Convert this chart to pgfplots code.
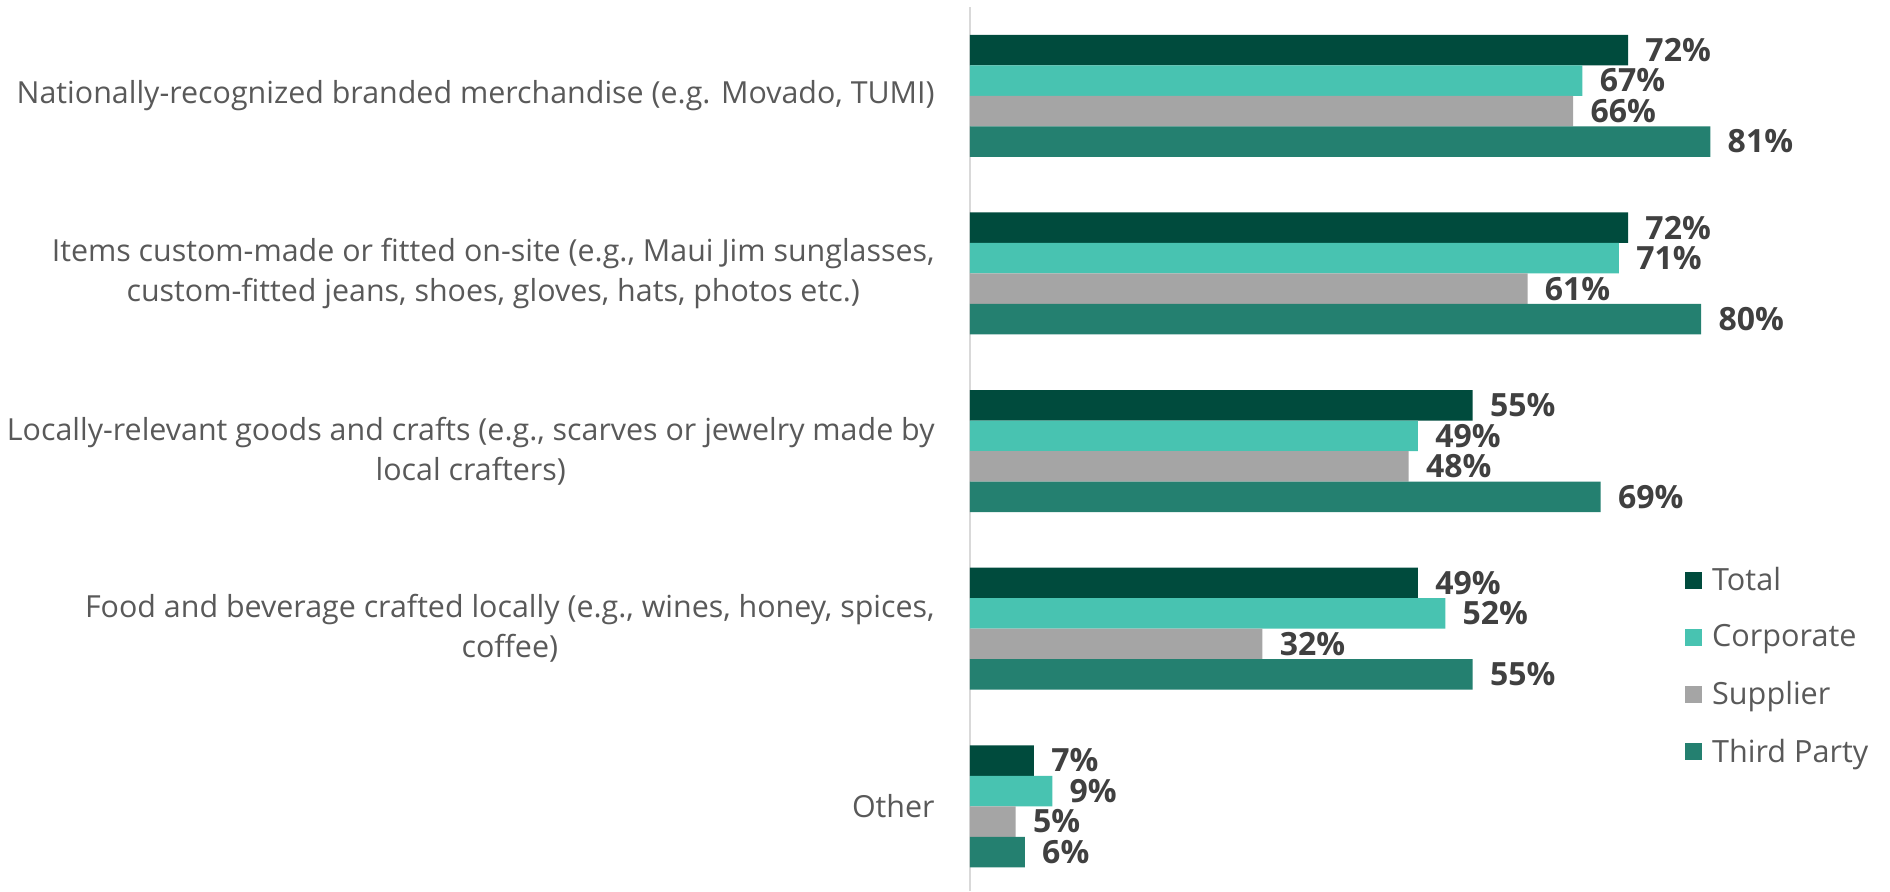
\documentclass[border=0pt]{standalone}
\usepackage{pgfplots}
\pgfplotsset{compat=1.18}
\usepackage{fontspec}
\setmainfont{Open Sans}

\definecolor{cTotal}{HTML}{004B3D}
\definecolor{cCorp}{HTML}{48C3B1}
\definecolor{cSupp}{HTML}{A5A5A5}
\definecolor{cThird}{HTML}{248070}
\definecolor{valtext}{HTML}{404040}
\definecolor{cattext}{HTML}{595959}
\definecolor{axisgray}{HTML}{D9D9D9}

\begin{document}
\begin{tikzpicture}
\path[use as bounding box] (0,0) rectangle (945pt,445.5pt);
\begin{axis}[
  at={(485pt,0pt)}, anchor=south west,
  scale only axis,
  width=457pt, height=442pt,
  xbar, bar width=15.25pt,
  xmin=0, xmax=100,
  ymin=-0.477, ymax=4.5,
  axis x line=none,
  axis y line*=left,
  y axis line style={draw=axisgray, line width=1pt, -},
  ytick={4,3,2,1,0},
  yticklabels={
    {Nationally-recognized branded merchandise (e.g. Movado, TUMI)},
    {Items custom-made or fitted on-site (e.g., Maui Jim sunglasses,\\custom-fitted jeans, shoes, gloves, hats, photos etc.)},
    {Locally-relevant goods and crafts (e.g., scarves or jewelry made by\\local crafters)},
    {Food and beverage crafted locally (e.g., wines, honey, spices,\\coffee)},
    {Other}},
  major tick length=0pt,
  yticklabel style={align=center, inner sep=0pt, xshift=-17.5pt,
    font=\fontsize{15.2}{20}\selectfont, text=cattext},
  /pgf/number format/assume math mode=true,
  point meta=x,
  nodes near coords={\pgfmathprintnumber{\pgfplotspointmeta}\%},
  every node near coord/.append style={anchor=west, inner sep=0pt, xshift=8.5pt,
    font=\fontsize{16}{16}\selectfont\bfseries, text=valtext},
  every axis plot post/.append style={draw=none,
    legend image code/.code={\fill[##1] (0pt,-4.25pt) rectangle (8.5pt,4.25pt);}},
  legend style={draw=none, fill=none, at={(axis cs:78.2,1.372)}, anchor=north west,
    inner sep=0pt, row sep=11.7pt, column sep=3pt,
    font=\fontsize{15.3}{15.3}\selectfont, text=cattext,
    cells={anchor=west}},
  legend cell align=left,
  clip=false,
]
\addplot[fill=cTotal, bar shift=22.875pt] coordinates {(72,4) (72,3) (55,2) (49,1) (7,0)};
\addplot[fill=cCorp, bar shift=7.625pt] coordinates {(67,4) (71,3) (49,2) (52,1) (9,0)};
\addplot[fill=cSupp, bar shift=-7.625pt] coordinates {(66,4) (61,3) (48,2) (32,1) (5,0)};
\addplot[fill=cThird, bar shift=-22.875pt] coordinates {(81,4) (80,3) (69,2) (55,1) (6,0)};
\legend{Total, Corporate, Supplier, Third Party}
\end{axis}
\end{tikzpicture}
\end{document}
